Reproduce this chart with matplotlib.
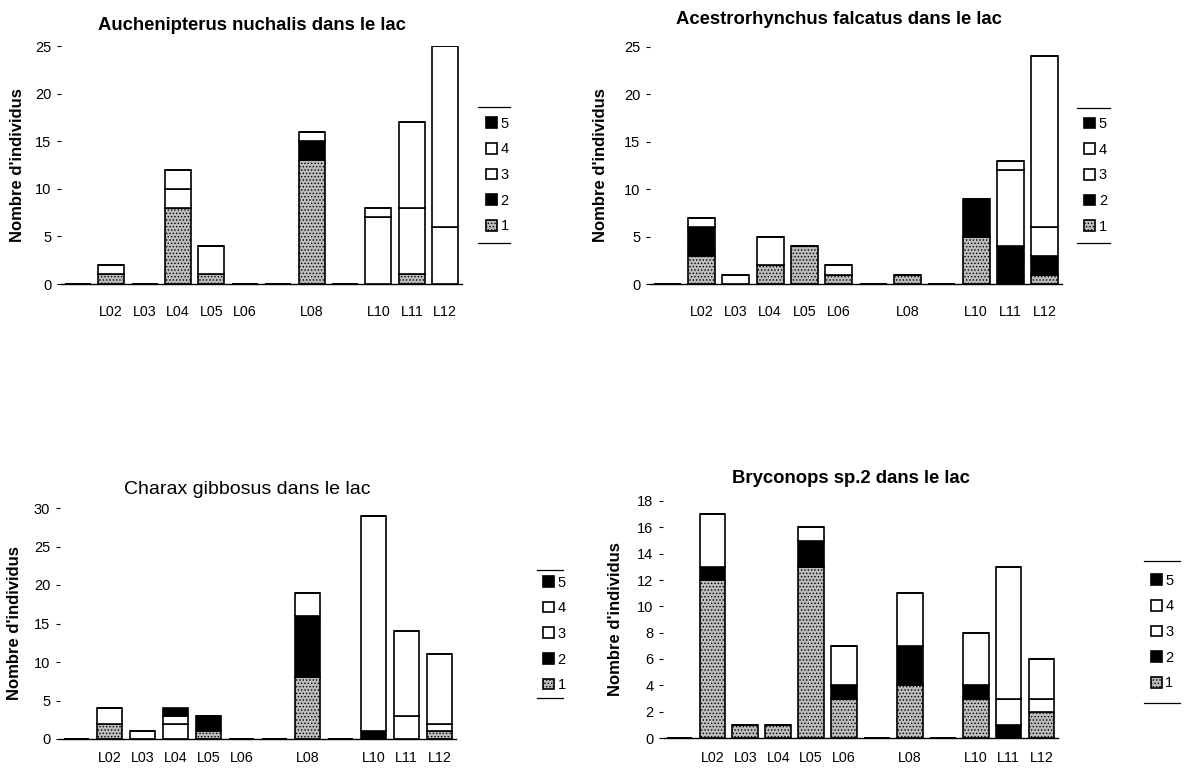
import numpy as np
import matplotlib
matplotlib.use('Agg')
import matplotlib.pyplot as plt

plt.rcParams['font.family'] = ['Liberation Sans', 'DejaVu Sans']
plt.rcParams['hatch.linewidth'] = 0.6

# sites L01..L12 (L01, L07, L09 have no label on the axis)
sites = ['L01', 'L02', 'L03', 'L04', 'L05', 'L06', 'L07', 'L08', 'L09', 'L10', 'L11', 'L12']
site_labels = ['', 'L02', 'L03', 'L04', 'L05', 'L06', '', 'L08', '', 'L10', 'L11', 'L12']
stages = ['1', '2', '3', '4', '5']

# Auchenipterus nuchalis
auch_1 = [0, 1, 0, 8, 1, 0, 0, 13, 0, 0, 1, 0]
auch_2 = [0, 0, 0, 0, 0, 0, 0, 2, 0, 0, 0, 0]
auch_3 = [0, 1, 0, 2, 3, 0, 0, 1, 0, 7, 7, 6]
auch_4 = [0, 0, 0, 2, 0, 0, 0, 0, 0, 1, 9, 19]
auch_5 = [0, 0, 0, 0, 0, 0, 0, 0, 0, 0, 0, 0]

# Acestrorhynchus falcatus
acest_1 = [0, 3, 0, 2, 4, 1, 0, 1, 0, 5, 0, 1]
acest_2 = [0, 3, 0, 0, 0, 0, 0, 0, 0, 4, 4, 2]
acest_3 = [0, 1, 1, 3, 0, 1, 0, 0, 0, 0, 8, 3]
acest_4 = [0, 0, 0, 0, 0, 0, 0, 0, 0, 0, 1, 18]
acest_5 = [0, 0, 0, 0, 0, 0, 0, 0, 0, 0, 0, 0]

# Charax gibbosus
charax_1 = [0, 2, 0, 0, 1, 0, 0, 8, 0, 0, 0, 1]
charax_2 = [0, 0, 0, 0, 2, 0, 0, 8, 0, 1, 0, 0]
charax_3 = [0, 2, 1, 2, 0, 0, 0, 3, 0, 28, 3, 1]
charax_4 = [0, 0, 0, 1, 0, 0, 0, 0, 0, 0, 11, 9]
charax_5 = [0, 0, 0, 1, 0, 0, 0, 0, 0, 0, 0, 0]

# Bryconops sp.2
bryc_1 = [0, 12, 1, 1, 13, 3, 0, 4, 0, 3, 0, 2]
bryc_2 = [0, 1, 0, 0, 2, 1, 0, 3, 0, 1, 1, 0]
bryc_3 = [0, 4, 0, 0, 1, 3, 0, 4, 0, 4, 2, 1]
bryc_4 = [0, 0, 0, 0, 0, 0, 0, 0, 0, 0, 10, 3]
bryc_5 = [0, 0, 0, 0, 0, 0, 0, 0, 0, 0, 0, 0]

# fill / hatch per stage
stage_styles = [
    dict(facecolor='#bcbcbc', hatch='.....'),
    dict(facecolor='black'),
    dict(facecolor='white'),
    dict(facecolor='white'),
    dict(facecolor='black'),
]


def plot_species(fig, rect, title, series, yticks, bold_title, title_xy,
                 ylabel_x, legend_xy, legend_lines, xpad=15):
    ax = fig.add_axes(rect)
    x = np.arange(len(sites))
    bottom = np.zeros(len(sites))
    handles = []
    for vals, name, style in zip(series, stages, stage_styles):
        vals = np.array(vals, dtype=float)
        bars = ax.bar(x, vals, 0.78, bottom=bottom, edgecolor='black',
                      linewidth=1.2, label=name, **style)
        handles.append(bars)
        bottom += vals

    ax.set_xlim(-0.5, len(sites) - 0.5)
    ax.set_ylim(0, yticks[-1])
    ax.set_yticks(yticks)
    ax.set_xticks(x)
    ax.set_xticklabels(site_labels)
    ax.tick_params(axis='x', length=0, pad=xpad, labelsize=10.3)
    ax.tick_params(axis='y', length=3, width=0.8, pad=4, labelsize=10.5)
    for side in ['top', 'right', 'left']:
        ax.spines[side].set_visible(False)
    ax.spines['bottom'].set_linewidth(1.0)

    ax.set_ylabel("Nombre d'individus", fontsize=12, fontweight='bold')
    ax.yaxis.set_label_coords(ylabel_x, 0.5)
    if bold_title:
        ax.text(title_xy[0], title_xy[1], title, transform=ax.transAxes,
                ha='center', va='center', fontsize=13.3, fontweight='bold')
    else:
        ax.text(title_xy[0], title_xy[1], title, transform=ax.transAxes,
                ha='center', va='center', fontsize=14)

    ax.legend(handles[::-1], stages[::-1], loc='center left',
              bbox_to_anchor=legend_xy, frameon=False, fontsize=10.5,
              handlelength=0.75, handleheight=0.75, handletextpad=0.25,
              labelspacing=0.8, borderaxespad=0)
    x0, x1, y0, y1 = legend_lines
    for yy in (y0, y1):
        ax.plot([x0, x1], [yy, yy], color='black', lw=0.9,
                transform=ax.transAxes, clip_on=False)
    return ax


def main():
    fig = plt.figure(figsize=(11.87, 7.71), dpi=100)
    W, H = 1187.0, 771.0

    def rect(left, right, y0, ytop):
        return [left / W, 1 - y0 / H, (right - left) / W, (y0 - ytop) / H]

    plot_species(fig, rect(61, 462, 284, 46),
                 'Auchenipterus nuchalis dans le lac',
                 [auch_1, auch_2, auch_3, auch_4, auch_5],
                 [0, 5, 10, 15, 20, 25], True, (0.476, 1.088),
                 -0.09, (1.045, 0.458), (1.04, 1.12, 0.744, 0.172))

    plot_species(fig, rect(650, 1062, 284, 47),
                 'Acestrorhynchus falcatus dans le lac',
                 [acest_1, acest_2, acest_3, acest_4, acest_5],
                 [0, 5, 10, 15, 20, 25], True, (0.459, 1.114),
                 -0.102, (1.04, 0.458), (1.036, 1.117, 0.743, 0.173))

    plot_species(fig, rect(60, 456, 739, 508),
                 'Charax gibbosus dans le lac',
                 [charax_1, charax_2, charax_3, charax_4, charax_5],
                 [0, 5, 10, 15, 20, 25, 30], False, (0.473, 1.078),
                 -0.096, (1.205, 0.455), (1.205, 1.27, 0.732, 0.177),
                 xpad=9)

    plot_species(fig, rect(663, 1058, 738, 501),
                 'Bryconops sp.2 dans le lac',
                 [bryc_1, bryc_2, bryc_3, bryc_4, bryc_5],
                 [0, 2, 4, 6, 8, 10, 12, 14, 16, 18], True, (0.476, 1.097),
                 -0.101, (1.22, 0.447), (1.218, 1.309, 0.747, 0.148),
                 xpad=9)

    fig.savefig('out.png', dpi=100)
    plt.close(fig)


if __name__ == "__main__":
    main()
